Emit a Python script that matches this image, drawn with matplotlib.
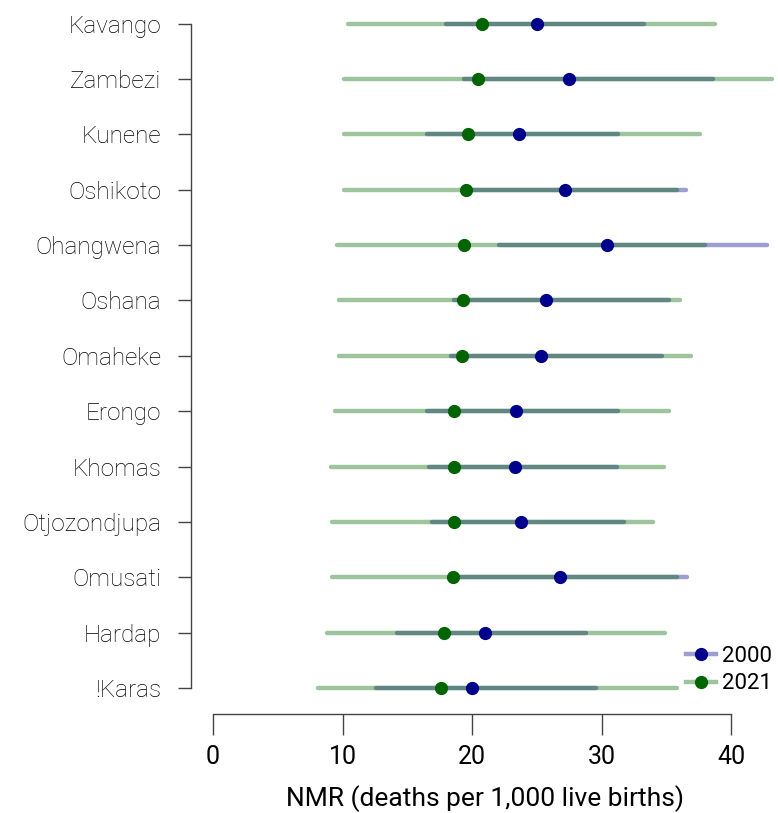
import numpy as np
import matplotlib.pyplot as plt
from matplotlib.lines import Line2D

regions = ["Kavango", "Zambezi", "Kunene", "Oshikoto", "Ohangwena", "Oshana",
           "Omaheke", "Erongo", "Khomas", "Otjozondjupa", "Omusati", "Hardap", "!Karas"]

nmr_2000 = [25.0, 27.5, 23.6, 27.2, 30.4, 25.7, 25.3, 23.4, 23.3, 23.8, 26.8, 21.0, 20.0]
lo_2000 = [18.0, 19.4, 16.5, 19.6, 22.1, 18.6, 18.4, 16.5, 16.7, 16.9, 18.8, 14.2, 12.6]
hi_2000 = [33.3, 38.6, 31.3, 36.5, 42.8, 35.2, 34.7, 31.3, 31.2, 31.7, 36.6, 28.8, 29.6]

nmr_2021 = [20.8, 20.5, 19.7, 19.5, 19.4, 19.3, 19.2, 18.6, 18.6, 18.6, 18.5, 17.8, 17.6]
lo_2021 = [10.4, 10.1, 10.1, 10.1, 9.6, 9.7, 9.7, 9.4, 9.1, 9.2, 9.2, 8.8, 8.1]
hi_2021 = [38.8, 43.2, 37.6, 35.8, 38.0, 36.1, 36.9, 35.2, 34.8, 34.0, 35.8, 34.9, 35.8]

blue = "#00008B"
green = "#006400"
lab_font = "Roboto"
num_font = ["Liberation Sans Narrow", "Roboto"]

W, H = 778, 813
fig = plt.figure(figsize=(W / 100, H / 100), dpi=100)
ax = fig.add_axes([191 / W, (H - 714) / H, (W - 191) / W, 714 / H])

ypos = np.arange(len(regions))[::-1]

for i, y in enumerate(ypos):
    ax.plot([lo_2000[i], hi_2000[i]], [y, y], color=blue, alpha=0.38, lw=3.2,
            solid_capstyle="round")
    ax.plot([lo_2021[i], hi_2021[i]], [y, y], color=green, alpha=0.38, lw=3.2,
            solid_capstyle="round")
ax.plot(nmr_2000, ypos, "o", color=blue, ms=8.5, zorder=3)
ax.plot(nmr_2021, ypos, "o", color=green, ms=8.5, zorder=4)

ax.set_xlim(-1.7, (W - 213) / 12.95)
ax.set_ylim(-26 / 55.36, 12 + 23.7 / 55.36)

for s in ["top", "right"]:
    ax.spines[s].set_visible(False)
ax.spines["left"].set_bounds(0, 12)
ax.spines["bottom"].set_bounds(0, 40)
for s in ["left", "bottom"]:
    ax.spines[s].set_color("#444444")
    ax.spines[s].set_linewidth(1)

ax.set_yticks(ypos)
ax.set_yticklabels(regions, fontsize=17.5, family=lab_font, fontweight="light",
                   color="black")
ax.tick_params(axis="y", length=9.5, width=1, color="#444444", pad=12)

ax.set_xticks([0, 10, 20, 30, 40])
ax.set_xticklabels(["0", "10", "20", "30", "40"], fontsize=18, family=num_font)
ax.tick_params(axis="x", length=15, width=1, color="#444444", pad=7)
ax.set_xlabel("NMR (deaths per 1,000 live births)", fontsize=19, family=num_font,
              labelpad=12)

handles = [
    Line2D([], [], color=(0, 0, 0.55, 0.38), lw=3.2, marker="o", ms=8.5,
           markerfacecolor=blue, markeredgecolor=blue),
    Line2D([], [], color=(0, 0.39, 0, 0.38), lw=3.2, marker="o", ms=8.5,
           markerfacecolor=green, markeredgecolor=green),
]
leg = ax.legend(handles, ["2000", "2021"], loc="lower right", frameon=False,
                bbox_to_anchor=(1.005, 0.015), handlelength=1.35,
                handletextpad=0.25, labelspacing=0.3, borderaxespad=0.0,
                prop={"family": lab_font, "size": 16})

fig.savefig("out.png", dpi=100)
